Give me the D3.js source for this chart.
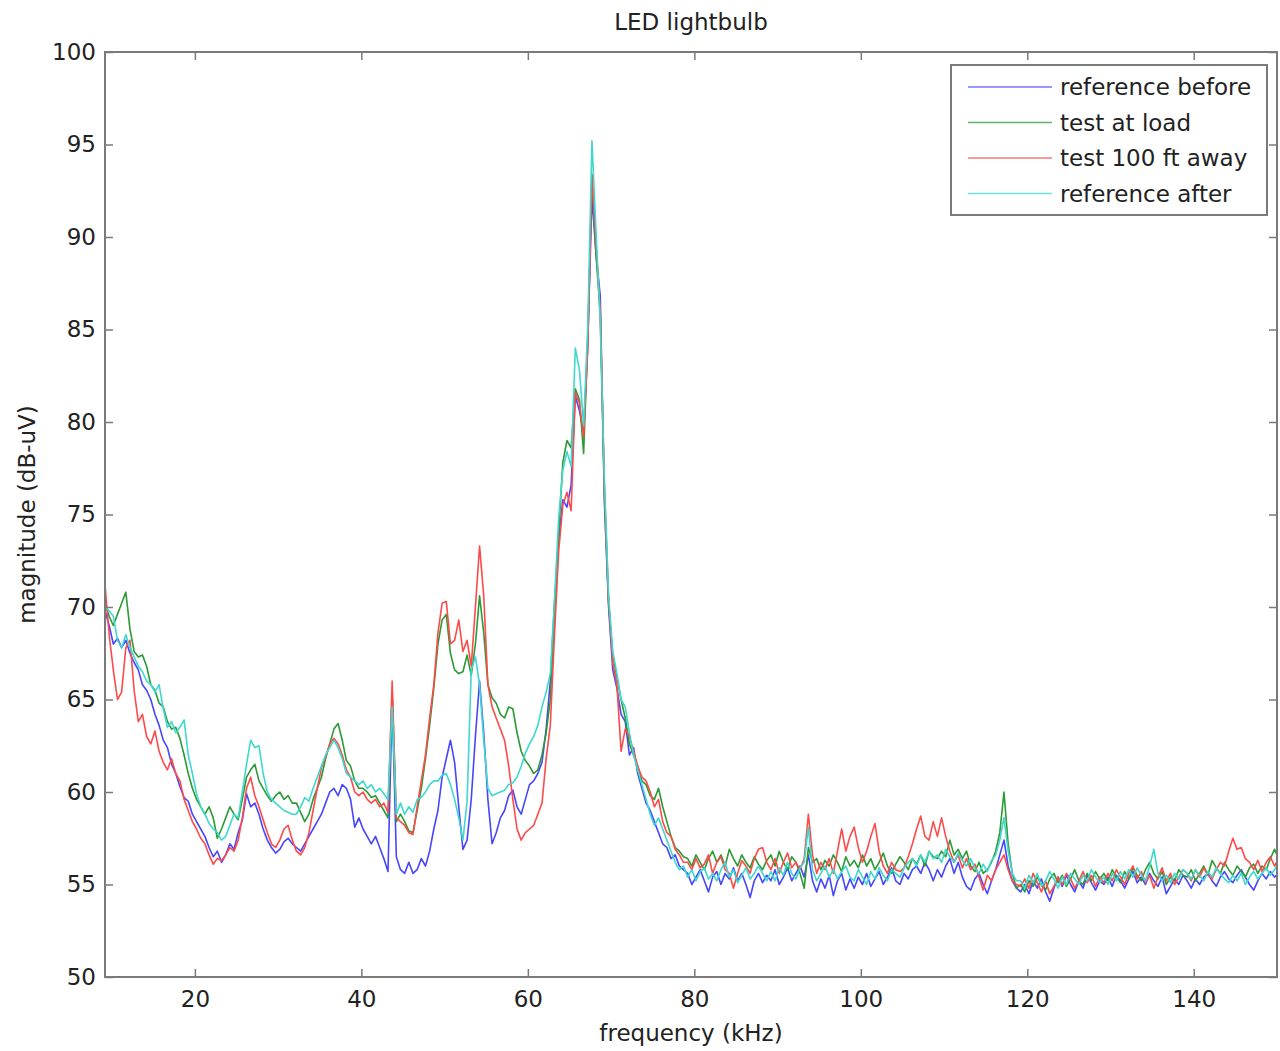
<!DOCTYPE html>
<html>
<head>
<meta charset="utf-8">
<script src="https://cdn.jsdelivr.net/npm/d3@7"></script>
<style>
  body { margin: 0; background: #fff; }
  text { font-family: "DejaVu Sans", sans-serif; fill: #222; }
</style>
</head>
<body>
<svg id="chart" width="1280" height="1051"></svg>
<script>
// spectra sampled every 0.5 kHz starting at the left edge of the plot
var freqStart = 9.2
var freqStep = 0.5

var refBefore = [
  69.8, 69.0, 68.0, 68.3, 67.8, 68.2, 67.5, 67.0, 66.6, 65.8, 65.5, 65.0, 64.2, 63.6, 62.8, 62.4, 61.5, 61.0, 60.3, 59.7,
  59.5, 58.8, 58.4, 58.0, 57.6, 57.0, 56.5, 56.8, 56.2, 56.6, 57.2, 56.9, 57.8, 58.5, 59.9, 59.2, 59.4, 58.8, 58.0, 57.4,
  57.0, 56.7, 56.9, 57.3, 57.5, 57.2, 57.0, 56.8, 57.2, 57.6, 58.0, 58.4, 58.8, 59.4, 60.0, 60.2, 59.8, 60.4, 60.2, 59.6,
  58.1, 58.6, 58.0, 57.6, 57.2, 57.6, 57.0, 56.4, 55.7, 65.0, 56.5, 55.8, 55.6, 56.2, 55.6, 55.8, 56.4, 56.0, 56.8, 58.0,
  59.0, 60.8, 61.8, 62.8, 61.6, 59.2, 56.9, 57.4, 59.6, 63.0, 66.0, 63.2, 59.6, 57.2, 57.8, 58.6, 59.0, 59.8, 60.1, 59.2,
  58.8, 59.6, 60.4, 60.6, 61.0, 61.6, 63.4, 66.0, 70.2, 73.6, 75.8, 75.4, 76.6, 81.4, 80.6, 79.4, 84.2, 92.2, 89.0, 86.8,
  75.6, 70.0, 66.6, 65.6, 64.2, 63.8, 62.0, 62.4, 61.0, 60.2, 59.4, 59.0, 58.4, 57.8, 57.2, 57.0, 56.4, 56.6, 56.0, 55.8,
  55.6, 55.0, 55.4, 55.8, 55.2, 54.6, 55.4, 55.7, 55.0, 55.6, 55.3, 55.9, 55.2, 55.6, 55.0, 54.3, 55.2, 55.6, 55.1, 55.5,
  55.2, 55.8, 55.0, 55.4, 55.9, 55.2, 55.6, 56.0, 55.4, 56.6, 55.2, 54.6, 55.3, 54.8, 55.5, 54.4, 55.2, 55.6, 54.7, 55.3,
  54.8, 55.4, 55.0, 55.6, 54.9, 55.3, 55.7, 55.0, 55.4, 55.9, 55.2, 55.0, 55.6, 55.3, 55.8, 56.0, 55.6, 56.2, 55.8, 55.2,
  55.8, 55.4, 56.0, 56.4, 55.6, 56.2, 55.4, 54.9, 54.7, 55.3, 55.6, 55.0, 54.5, 55.2, 55.8, 56.6, 57.4, 56.0, 55.2, 54.8,
  54.6, 55.0, 54.5, 55.2, 54.8, 55.3, 54.6, 54.1, 54.8, 55.4, 54.9, 55.5, 55.0, 54.6, 55.2, 54.8, 55.5, 55.1, 54.7, 55.2,
  55.0, 55.4, 54.9, 55.5, 55.2, 54.8, 55.3, 55.7, 55.1, 55.4, 55.0, 55.6, 55.2, 54.9, 55.4, 54.5, 54.9, 55.3, 55.0, 55.5,
  55.2, 54.8, 55.3, 55.0, 55.4, 55.6, 55.2, 54.9, 55.4, 55.7, 55.3, 55.1, 55.5, 55.8, 55.4, 55.0, 54.7, 55.2, 55.6, 55.3,
  55.7, 55.4, 55.6
]

var testAtLoad = [
  70.2, 69.5, 69.0, 69.6, 70.2, 70.8, 68.8, 67.6, 67.3, 67.4, 66.8, 65.8, 65.5, 64.8, 64.6, 63.8, 63.4, 63.5, 62.9, 62.0,
  61.0, 60.2, 59.6, 59.2, 58.8, 59.2, 58.6, 57.5, 58.0, 58.6, 59.2, 58.8, 58.5, 59.6, 60.8, 61.2, 61.5, 60.6, 60.2, 59.8,
  59.5, 59.8, 60.0, 59.6, 59.8, 59.4, 59.4, 58.9, 58.4, 58.8, 59.6, 60.2, 60.8, 61.8, 62.6, 63.4, 63.7, 62.8, 61.7, 61.4,
  60.6, 60.2, 60.2, 60.0, 59.7, 59.8, 59.4, 59.0, 58.6, 65.4, 58.4, 58.8, 58.4, 57.9, 57.8, 59.0, 60.2, 61.8, 63.6, 65.6,
  68.0, 69.3, 69.6, 67.5, 66.6, 66.4, 66.5, 67.4, 66.3, 68.0, 70.6, 68.6, 65.8, 65.1, 64.8, 64.2, 64.0, 64.6, 64.5, 63.2,
  62.2, 61.7, 61.4, 61.0, 61.2, 62.0, 63.2, 65.0, 69.5, 74.0, 77.8, 79.0, 78.6, 81.8, 81.2, 78.3, 84.5, 93.3, 89.0, 85.8,
  76.0, 70.2, 67.4, 66.2, 65.0, 64.0, 62.6, 62.0, 61.4, 60.6, 60.4, 59.8, 59.6, 60.2, 59.2, 58.4, 57.6, 57.0, 56.8, 56.5,
  56.4, 56.0, 56.6, 56.2, 55.8, 56.4, 56.8, 56.2, 56.6, 56.0, 56.9, 56.4, 56.0, 56.6, 56.2, 55.9, 56.5, 56.1, 55.8, 56.3,
  56.6, 56.0, 56.8, 56.2, 55.8, 56.5, 56.2, 55.6, 54.8, 57.0, 56.2, 56.4, 55.8, 56.3, 56.0, 56.6, 56.2, 55.7, 56.5, 56.0,
  56.3, 55.9, 56.6, 56.0, 56.4, 55.8, 56.2, 56.7, 56.0, 55.6, 56.1, 56.5, 56.2, 55.8, 56.4, 56.1, 56.6, 56.0, 56.8, 56.5,
  56.4, 56.8, 56.5, 57.4, 56.6, 56.9, 56.4, 56.8, 56.0, 55.7, 56.2, 55.6, 55.8, 56.2, 56.8, 57.8, 60.0, 57.2, 55.6, 54.8,
  55.0, 54.6, 55.2, 54.9, 55.4, 55.0, 54.7, 55.3, 55.6, 55.1, 55.5, 54.9, 55.3, 55.8, 55.2, 55.0, 55.6, 55.2, 55.7, 55.3,
  55.6, 55.2, 55.8, 55.4, 55.1, 55.7, 55.3, 55.9, 55.5, 55.2, 55.8, 56.2, 55.6, 55.3, 55.7, 55.0, 55.4, 55.2, 55.8, 55.5,
  55.4, 55.8, 55.2, 55.6, 56.0, 55.5, 56.3, 55.9, 55.6, 56.2, 55.8, 55.5, 56.0, 55.7, 55.4, 55.9, 56.1, 55.6, 56.0, 55.8,
  56.4, 56.9, 56.4
]

var test100ft = [
  71.2, 68.5, 66.6, 65.0, 65.4, 67.8, 68.2, 65.5, 63.8, 64.2, 63.0, 62.6, 63.3, 62.2, 61.6, 61.2, 61.8, 61.0, 60.6, 59.6,
  59.0, 58.4, 58.0, 57.5, 57.2, 56.6, 56.1, 56.4, 56.3, 56.6, 57.0, 56.8, 57.4, 58.6, 60.2, 60.8, 59.8, 59.2, 58.5, 57.8,
  57.2, 57.0, 57.4, 58.0, 58.2, 57.4, 56.8, 56.6, 57.0, 57.8, 59.0, 60.2, 61.3, 61.9, 62.6, 62.9, 62.6, 62.0, 61.2, 60.8,
  60.0, 59.8, 60.0, 59.6, 59.4, 59.6, 59.2, 59.4, 58.9, 66.0, 58.6, 58.4, 58.2, 57.8, 57.7, 59.2, 60.6, 62.0, 64.0, 65.8,
  68.6, 70.2, 70.3, 68.0, 68.2, 69.3, 67.6, 68.2, 66.8, 70.0, 73.3, 70.6, 65.8, 64.6, 64.0, 63.4, 62.8, 61.4, 59.6, 58.0,
  57.4, 57.8, 58.0, 58.2, 58.8, 59.4, 61.8, 63.6, 68.5, 73.0, 75.5, 76.2, 75.2, 81.6, 81.0, 79.2, 84.0, 93.4, 89.6, 86.0,
  76.5, 70.4, 67.0, 65.8, 62.2, 63.4, 63.0, 62.2, 61.4, 60.8, 60.6, 60.0, 59.2, 59.6, 58.4, 57.8, 57.6, 56.9, 56.6, 56.2,
  56.2, 55.8, 56.4, 55.9, 56.1, 56.6, 55.6, 56.2, 56.5, 55.8, 55.6, 54.8, 55.6, 56.3, 56.0, 55.6, 56.4, 56.9, 57.0, 56.2,
  55.8, 56.4, 55.6, 56.2, 56.7, 55.9, 56.2, 55.8, 56.4, 58.8, 56.6, 55.6, 56.2, 55.8, 56.4, 55.6, 56.8, 58.0, 56.8, 57.6,
  58.1, 57.0, 56.2, 56.8, 57.6, 58.3, 56.8, 56.0, 55.6, 56.2, 55.8, 55.7, 55.9, 56.5, 57.2, 58.0, 58.7, 57.6, 57.4, 58.4,
  57.6, 58.6, 57.6, 56.8, 56.2, 56.6, 55.9, 56.4, 55.8, 56.1, 55.4, 54.7, 55.5, 55.2, 55.8, 56.2, 56.6, 55.8, 55.2, 55.0,
  54.9, 55.3, 54.8, 55.6, 55.1, 54.6, 55.2, 54.5, 54.9, 55.4, 55.0, 55.6, 55.3, 54.8, 55.2, 55.7, 55.1, 55.5, 54.9, 55.4,
  55.1, 55.6, 55.2, 55.8, 55.4, 55.0, 55.6, 56.0, 55.3, 55.7, 55.1, 55.5, 54.8, 55.4, 55.9, 55.2, 55.6, 55.0, 55.4, 55.8,
  55.6, 55.2, 55.8, 55.4, 55.9, 55.5, 55.3, 55.8, 56.2, 56.0, 56.8, 57.5, 56.9, 57.0, 56.4, 56.2, 55.8, 56.3, 55.7, 56.2,
  56.5, 56.0, 56.4
]

var refAfter = [
  70.0, 69.8, 69.5, 68.2, 67.8, 68.5, 67.8, 67.3, 66.8, 66.5, 66.0, 65.8, 65.4, 65.8, 64.5, 63.5, 63.8, 63.2, 63.5, 63.9,
  62.0, 61.0, 59.9, 59.2, 58.8, 58.3, 58.0, 57.8, 57.4, 57.6, 58.2, 58.8, 58.6, 60.0, 61.5, 62.8, 62.4, 62.5, 61.0, 60.0,
  59.6, 59.4, 59.2, 59.0, 58.9, 58.8, 58.8, 59.2, 59.7, 59.5, 60.2, 60.8, 61.4, 62.0, 62.4, 62.8, 62.4, 61.8, 61.0, 60.8,
  60.6, 60.4, 60.6, 60.2, 60.4, 60.0, 60.2, 59.9, 59.6, 64.6, 58.8, 59.4, 58.8, 59.2, 58.9, 59.6, 59.7, 60.0, 60.4, 60.6,
  60.6, 60.9, 61.0, 60.4, 59.6, 58.6, 57.4, 59.5, 66.6, 67.3, 65.8, 62.8, 60.2, 59.8, 59.9, 60.0, 60.1, 60.4, 60.5, 60.8,
  61.4, 62.1, 62.6, 63.0, 63.6, 64.6, 65.4, 66.4, 70.4, 74.8, 77.4, 78.4, 77.6, 84.0, 82.8, 79.8, 85.2, 95.2, 90.2, 85.4,
  76.8, 70.6, 67.6, 66.4, 65.0, 64.6, 63.2, 62.0, 61.2, 60.4, 59.6, 58.8, 58.2, 58.6, 58.0, 57.4, 56.8, 56.2, 55.8, 56.0,
  55.4, 55.8, 55.2, 55.7, 55.9, 55.3, 55.6, 55.2, 55.8, 56.2, 55.4, 55.8, 55.1, 55.5, 55.9, 55.3, 55.6, 56.0, 55.6, 55.2,
  55.7, 55.2, 55.9, 55.5, 56.2, 55.6, 55.3, 55.9, 56.2, 58.1, 55.8, 55.2, 55.6, 56.0, 55.4, 55.8, 55.3, 55.7, 56.0, 55.4,
  55.2, 55.8, 55.4, 55.0, 55.7, 55.3, 55.9, 55.5, 55.2, 55.8, 55.6, 55.4, 55.9, 56.2, 56.4, 56.0, 56.6, 56.2, 56.8, 56.4,
  56.6, 56.2, 56.9, 56.5, 56.2, 56.7, 56.3, 56.0, 56.4, 55.9, 55.6, 56.1, 55.7, 56.3, 56.6, 57.4, 58.6, 56.8, 55.6, 55.2,
  55.2, 54.8, 55.5, 55.1, 55.6, 54.9, 55.2, 55.7, 55.3, 54.8, 55.4, 55.0, 55.6, 55.3, 55.0, 55.5, 55.2, 55.8, 55.4, 55.1,
  55.4, 55.0, 55.6, 55.2, 55.7, 55.3, 55.8, 55.4, 55.9, 55.5, 55.2, 56.0, 56.9, 55.6, 55.2, 55.5, 55.1, 55.6, 55.3, 55.8,
  55.6, 55.3, 55.8, 55.5, 55.2, 55.7, 55.4, 55.9, 55.6, 55.3, 55.1, 55.5, 55.2, 55.6, 55.0, 55.4, 55.7, 55.3, 55.6, 55.9,
  55.5, 55.8, 56.2
]

var seriesNames = ['reference before', 'test at load', 'test 100 ft away', 'reference after']
var seriesColors = ['#4646ff', '#2b9a35', '#ff4a4a', '#3fd8cf']
var xTicks = [20, 40, 60, 80, 100, 120, 140]
var yTicks = [50, 55, 60, 65, 70, 75, 80, 85, 90, 95, 100]

var series = [refBefore, testAtLoad, test100ft, refAfter].map((vals, k) => ({
  name: seriesNames[k],
  color: seriesColors[k],
  points: vals.map((v, i) => ({ f: freqStart + i * freqStep, v: v }))
}))

var plotLeft = 105, plotRight = 1277, plotTop = 52, plotBottom = 977
var axisColor = '#7a7a7a'

var svg = d3.select('#chart')

var x = d3.scaleLinear().domain([9.2, 150]).range([plotLeft, plotRight])
var y = d3.scaleLinear().domain([50, 100]).range([plotBottom, plotTop])

svg.append('defs').append('clipPath').attr('id', 'plot')
  .append('rect').attr('x', plotLeft).attr('y', plotTop)
  .attr('width', plotRight - plotLeft).attr('height', plotBottom - plotTop)

// traces
var line = d3.line().x(d => x(d.f)).y(d => y(d.v))
svg.append('g').attr('clip-path', 'url(#plot)')
  .selectAll('path')
  .data(series)
  .enter()
  .append('path')
  .attr('d', d => line(d.points))
  .attr('fill', 'none')
  .attr('stroke', d => d.color)
  .attr('stroke-width', 1.6)
  .attr('stroke-linejoin', 'round')

// axes, ticks pointing inwards on all four sides
var styleAxis = (g) => {
  g.select('.domain').remove()
  g.selectAll('.tick line').attr('stroke', axisColor).attr('stroke-width', 1.5)
  g.selectAll('.tick text').style('font-size', '23px').attr('fill', '#222')
}

svg.append('g').attr('transform', `translate(0,${plotBottom})`)
  .call(d3.axisBottom(x).tickValues(xTicks).tickSize(-8).tickPadding(14).tickFormat(d3.format('d')))
  .call(styleAxis)
svg.append('g').attr('transform', `translate(0,${plotTop})`)
  .call(d3.axisTop(x).tickValues(xTicks).tickSize(-8).tickFormat(''))
  .call(styleAxis)
svg.append('g').attr('transform', `translate(${plotLeft},0)`)
  .call(d3.axisLeft(y).tickValues(yTicks).tickSize(-8).tickPadding(9).tickFormat(d3.format('d')))
  .call(styleAxis)
svg.append('g').attr('transform', `translate(${plotRight},0)`)
  .call(d3.axisRight(y).tickValues(yTicks).tickSize(-8).tickFormat(''))
  .call(styleAxis)

svg.append('rect')
  .attr('x', plotLeft).attr('y', plotTop)
  .attr('width', plotRight - plotLeft).attr('height', plotBottom - plotTop)
  .attr('fill', 'none').attr('stroke', axisColor).attr('stroke-width', 2)

// title and labels
svg.append('text').attr('x', (plotLeft + plotRight) / 2).attr('y', 30)
  .attr('text-anchor', 'middle').style('font-size', '23px')
  .text('LED lightbulb')
svg.append('text').attr('x', (plotLeft + plotRight) / 2).attr('y', 1041)
  .attr('text-anchor', 'middle').style('font-size', '23px')
  .text('frequency (kHz)')
svg.append('text')
  .attr('transform', `translate(35,${(plotTop + plotBottom) / 2}) rotate(-90)`)
  .attr('text-anchor', 'middle').style('font-size', '23px')
  .text('magnitude (dB-uV)')

// legend
var legend = svg.append('g').attr('transform', 'translate(951,65)')
legend.append('rect').attr('width', 316).attr('height', 150)
  .attr('fill', '#fff').attr('stroke', axisColor).attr('stroke-width', 2)

var item = legend.selectAll('.legend-item')
  .data(series)
  .enter()
  .append('g')
  .attr('class', 'legend-item')
  .attr('transform', (d, i) => `translate(0,${22 + i * 35.5})`)

item.append('line')
  .attr('x1', 17).attr('x2', 101)
  .attr('stroke', d => d.color).attr('stroke-width', 1.6)
  .attr('stroke-opacity', 0.75)

item.append('text')
  .attr('x', 109).attr('y', 8)
  .style('font-size', '23px')
  .text(d => d.name)
</script>
</body>
</html>
